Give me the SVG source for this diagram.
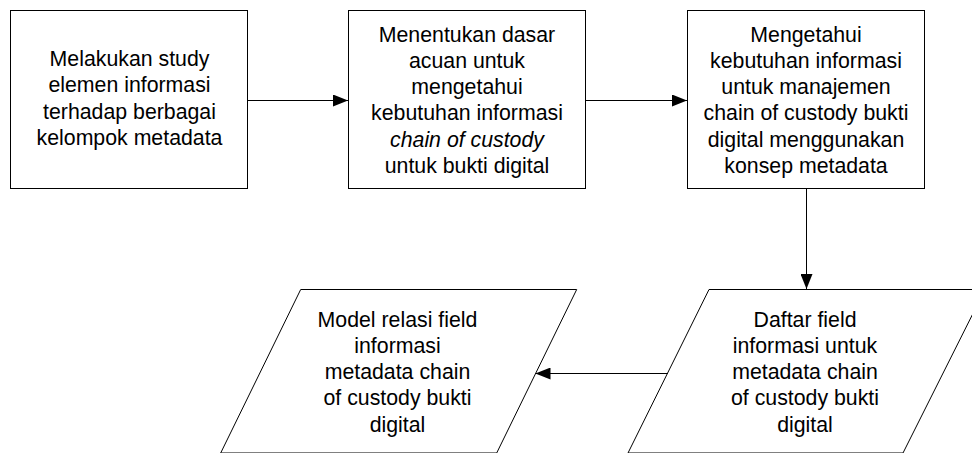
<svg xmlns="http://www.w3.org/2000/svg" width="972" height="453" viewBox="0 0 972 453">
  <style>
    .shape { fill: #fff; stroke: #000; stroke-width: 1; }
    .label { font-family: "Liberation Sans", Arial, sans-serif; font-size: 21.3px; fill: #000; text-anchor: middle; }
    .conn { stroke: #000; stroke-width: 1; fill: none; marker-end: url(#arrow); }
  </style>
  <defs>
    <marker id="arrow" markerUnits="userSpaceOnUse" markerWidth="15" markerHeight="12" refX="15" refY="6" orient="auto">
      <path d="M0,0 L15,6 L0,12 z" fill="#000"/>
    </marker>
  </defs>
  <rect width="972" height="453" fill="#fff"/>

  <g id="step-study">
    <rect class="shape" x="10.5" y="10.5" width="237" height="178"/>
    <text class="label" x="129.5" y="66">Melakukan study</text>
    <text class="label" x="129.5" y="92.3">elemen informasi</text>
    <text class="label" x="129.5" y="118.6">terhadap berbagai</text>
    <text class="label" x="129.5" y="145">kelompok metadata</text>
  </g>

  <g id="step-dasar-acuan">
    <rect class="shape" x="348.5" y="10.5" width="237" height="178"/>
    <text class="label" x="467" y="41.5">Menentukan dasar</text>
    <text class="label" x="467" y="67.8">acuan untuk</text>
    <text class="label" x="467" y="94.1">mengetahui</text>
    <text class="label" x="467" y="120.4">kebutuhan informasi</text>
    <text class="label" x="467" y="146.7" font-style="italic">chain of custody</text>
    <text class="label" x="467" y="173">untuk bukti digital</text>
  </g>

  <g id="step-kebutuhan">
    <rect class="shape" x="687.5" y="10.5" width="237" height="178"/>
    <text class="label" x="806" y="41.5">Mengetahui</text>
    <text class="label" x="806" y="67.8">kebutuhan informasi</text>
    <text class="label" x="806" y="94.1">untuk manajemen</text>
    <text class="label" x="806" y="120.4">chain of custody bukti</text>
    <text class="label" x="806" y="146.7">digital menggunakan</text>
    <text class="label" x="806" y="173">konsep metadata</text>
  </g>

  <g id="output-daftar-field">
    <polygon class="shape" points="709,289.5 985,289.5 903,453 628,453"/>
    <text class="label" x="805" y="326.5">Daftar field</text>
    <text class="label" x="805" y="352.8">informasi untuk</text>
    <text class="label" x="805" y="379.1">metadata chain</text>
    <text class="label" x="805" y="405.4">of custody bukti</text>
    <text class="label" x="805" y="431.7">digital</text>
  </g>

  <g id="output-model-relasi">
    <polygon class="shape" points="300.7,289.5 576.7,289.5 496.7,453 220.7,453"/>
    <text class="label" x="397.5" y="326.5">Model relasi field</text>
    <text class="label" x="397.5" y="352.8">informasi</text>
    <text class="label" x="397.5" y="379.1">metadata chain</text>
    <text class="label" x="397.5" y="405.4">of custody bukti</text>
    <text class="label" x="397.5" y="431.7">digital</text>
  </g>

  <g id="connectors">
    <line class="conn" x1="248" y1="100.5" x2="348" y2="100.5"/>
    <line class="conn" x1="586" y1="100.5" x2="687" y2="100.5"/>
    <line class="conn" x1="806.5" y1="189" x2="806.5" y2="289"/>
    <line class="conn" x1="668" y1="373.5" x2="535.5" y2="373.5"/>
  </g>
</svg>
